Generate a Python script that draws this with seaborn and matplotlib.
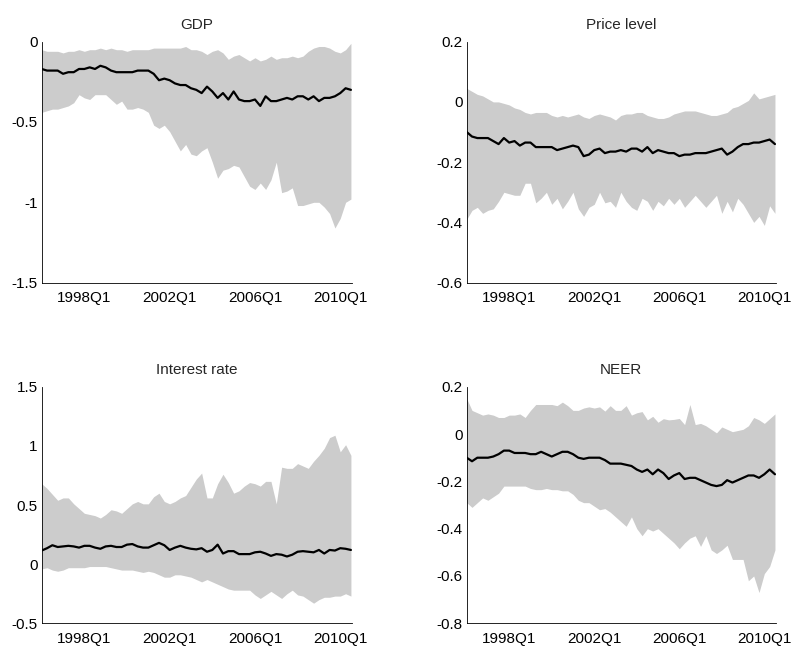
import numpy as np
import pandas as pd
import matplotlib
matplotlib.use("Agg")
import matplotlib.pyplot as plt
import seaborn as sns

# ---------------- data ----------------
quarters = [f"{y}Q{q}" for y in range(1996, 2011) for q in range(1, 5)][:59]
xtick_labels = ["1998Q1", "2002Q1", "2006Q1", "2010Q1"]
titles = ["GDP", "Price level", "Interest rate", "NEER"]

gdp_med = [-0.17, -0.18, -0.18, -0.18, -0.20, -0.19, -0.19, -0.17, -0.17, -0.16,
           -0.17, -0.15, -0.16, -0.18, -0.19, -0.19, -0.19, -0.19, -0.18, -0.18,
           -0.18, -0.20, -0.24, -0.23, -0.24, -0.26, -0.27, -0.27, -0.29, -0.30,
           -0.32, -0.28, -0.31, -0.35, -0.32, -0.36, -0.31, -0.36, -0.37, -0.37,
           -0.36, -0.40, -0.34, -0.37, -0.37, -0.36, -0.35, -0.36, -0.34, -0.34,
           -0.36, -0.34, -0.37, -0.35, -0.35, -0.34, -0.32, -0.29, -0.30]
gdp_up = [-0.05, -0.06, -0.06, -0.06, -0.07, -0.06, -0.06, -0.05, -0.06, -0.05,
          -0.05, -0.04, -0.05, -0.04, -0.05, -0.05, -0.06, -0.05, -0.05, -0.05,
          -0.05, -0.04, -0.04, -0.04, -0.04, -0.04, -0.04, -0.03, -0.05, -0.05,
          -0.06, -0.08, -0.06, -0.05, -0.07, -0.11, -0.09, -0.08, -0.10, -0.12,
          -0.10, -0.12, -0.11, -0.09, -0.11, -0.10, -0.10, -0.09, -0.10, -0.09,
          -0.06, -0.04, -0.03, -0.03, -0.04, -0.06, -0.07, -0.05, -0.01]
gdp_lo = [-0.44, -0.43, -0.42, -0.42, -0.41, -0.40, -0.38, -0.33, -0.35, -0.36,
          -0.33, -0.33, -0.33, -0.36, -0.39, -0.37, -0.42, -0.42, -0.41, -0.42,
          -0.44, -0.52, -0.54, -0.52, -0.56, -0.62, -0.68, -0.64, -0.70, -0.71,
          -0.68, -0.66, -0.75, -0.85, -0.80, -0.79, -0.77, -0.78, -0.84, -0.90,
          -0.92, -0.88, -0.92, -0.86, -0.75, -0.94, -0.93, -0.91, -1.02, -1.02,
          -1.01, -1.00, -1.00, -1.03, -1.07, -1.16, -1.10, -1.00, -0.98]

price_med = [-0.100, -0.115, -0.120, -0.120, -0.120, -0.130, -0.140, -0.120, -0.135, -0.130,
             -0.145, -0.135, -0.135, -0.150, -0.150, -0.150, -0.150, -0.160, -0.155, -0.150,
             -0.145, -0.150, -0.180, -0.175, -0.160, -0.155, -0.170, -0.165, -0.165, -0.160,
             -0.165, -0.155, -0.155, -0.165, -0.150, -0.170, -0.160, -0.165, -0.170, -0.170,
             -0.180, -0.175, -0.175, -0.170, -0.170, -0.170, -0.165, -0.160, -0.155, -0.175,
             -0.165, -0.150, -0.140, -0.140, -0.135, -0.135, -0.130, -0.125, -0.140]
price_up = [0.045, 0.035, 0.025, 0.020, 0.010, 0.000, 0.000, -0.005, -0.010, -0.020,
            -0.025, -0.035, -0.040, -0.035, -0.035, -0.035, -0.045, -0.050, -0.045, -0.050,
            -0.045, -0.040, -0.050, -0.055, -0.045, -0.040, -0.045, -0.050, -0.060, -0.045,
            -0.040, -0.040, -0.035, -0.035, -0.045, -0.050, -0.055, -0.055, -0.050, -0.040,
            -0.035, -0.030, -0.030, -0.030, -0.035, -0.040, -0.045, -0.045, -0.040, -0.035,
            -0.020, -0.015, -0.005, 0.005, 0.030, 0.010, 0.015, 0.020, 0.025]
price_lo = [-0.390, -0.360, -0.350, -0.370, -0.360, -0.355, -0.330, -0.300, -0.305, -0.310,
            -0.310, -0.270, -0.270, -0.335, -0.320, -0.300, -0.340, -0.320, -0.355, -0.330,
            -0.300, -0.355, -0.380, -0.350, -0.340, -0.300, -0.335, -0.330, -0.350, -0.300,
            -0.330, -0.350, -0.360, -0.320, -0.330, -0.360, -0.330, -0.345, -0.320, -0.340,
            -0.320, -0.350, -0.330, -0.310, -0.330, -0.350, -0.330, -0.310, -0.370, -0.330,
            -0.365, -0.320, -0.340, -0.370, -0.400, -0.380, -0.410, -0.345, -0.370]

rate_med = [0.115, 0.135, 0.160, 0.145, 0.150, 0.155, 0.150, 0.140, 0.155, 0.155,
            0.140, 0.130, 0.150, 0.155, 0.145, 0.145, 0.165, 0.170, 0.150, 0.140,
            0.140, 0.160, 0.180, 0.160, 0.120, 0.140, 0.155, 0.140, 0.130, 0.125,
            0.135, 0.105, 0.120, 0.165, 0.090, 0.110, 0.110, 0.085, 0.085, 0.085,
            0.100, 0.105, 0.090, 0.070, 0.085, 0.080, 0.065, 0.080, 0.105, 0.110,
            0.105, 0.100, 0.120, 0.090, 0.120, 0.115, 0.135, 0.130, 0.120]
rate_up = [0.68, 0.64, 0.59, 0.54, 0.56, 0.56, 0.51, 0.47, 0.43, 0.42,
           0.41, 0.39, 0.42, 0.46, 0.45, 0.43, 0.47, 0.51, 0.53, 0.51,
           0.51, 0.57, 0.60, 0.53, 0.51, 0.53, 0.56, 0.58, 0.65, 0.72,
           0.77, 0.56, 0.56, 0.68, 0.76, 0.69, 0.60, 0.62, 0.66, 0.69,
           0.68, 0.66, 0.70, 0.70, 0.51, 0.82, 0.81, 0.81, 0.85, 0.83,
           0.81, 0.87, 0.92, 0.98, 1.07, 1.09, 0.95, 1.01, 0.92]
rate_lo = [-0.04, -0.03, -0.05, -0.06, -0.05, -0.03, -0.03, -0.03, -0.03, -0.02,
           -0.02, -0.02, -0.02, -0.03, -0.04, -0.05, -0.05, -0.05, -0.06, -0.07,
           -0.06, -0.07, -0.09, -0.11, -0.11, -0.09, -0.09, -0.10, -0.11, -0.13,
           -0.15, -0.13, -0.15, -0.17, -0.19, -0.21, -0.22, -0.22, -0.22, -0.22,
           -0.26, -0.29, -0.26, -0.23, -0.26, -0.29, -0.25, -0.22, -0.26, -0.27,
           -0.30, -0.33, -0.30, -0.28, -0.28, -0.27, -0.27, -0.25, -0.27]

neer_med = [-0.100, -0.115, -0.100, -0.100, -0.100, -0.095, -0.085, -0.070, -0.070, -0.080,
            -0.080, -0.080, -0.085, -0.085, -0.075, -0.085, -0.095, -0.085, -0.075, -0.075,
            -0.085, -0.100, -0.105, -0.100, -0.100, -0.100, -0.110, -0.125, -0.125, -0.125,
            -0.130, -0.135, -0.150, -0.160, -0.150, -0.170, -0.150, -0.165, -0.190, -0.175,
            -0.165, -0.190, -0.185, -0.185, -0.195, -0.205, -0.215, -0.220, -0.215, -0.195,
            -0.205, -0.195, -0.185, -0.175, -0.175, -0.185, -0.170, -0.150, -0.170]
neer_up = [0.150, 0.100, 0.090, 0.080, 0.085, 0.080, 0.070, 0.070, 0.080, 0.080,
           0.085, 0.070, 0.100, 0.125, 0.125, 0.125, 0.125, 0.120, 0.135, 0.120,
           0.100, 0.100, 0.110, 0.115, 0.110, 0.115, 0.097, 0.120, 0.100, 0.100,
           0.120, 0.080, 0.090, 0.095, 0.060, 0.075, 0.050, 0.065, 0.060, 0.062,
           0.066, 0.040, 0.125, 0.040, 0.045, 0.035, 0.020, 0.005, 0.030, 0.020,
           0.010, 0.015, 0.020, 0.035, 0.070, 0.060, 0.045, 0.065, 0.085]
neer_lo = [-0.290, -0.310, -0.290, -0.270, -0.280, -0.265, -0.250, -0.220, -0.220, -0.220,
           -0.220, -0.220, -0.230, -0.235, -0.235, -0.230, -0.235, -0.235, -0.240, -0.240,
           -0.255, -0.280, -0.290, -0.290, -0.305, -0.320, -0.315, -0.330, -0.350, -0.370,
           -0.390, -0.350, -0.400, -0.430, -0.400, -0.410, -0.400, -0.420, -0.440, -0.460,
           -0.485, -0.460, -0.440, -0.430, -0.475, -0.430, -0.490, -0.505, -0.490, -0.470,
           -0.530, -0.530, -0.530, -0.620, -0.600, -0.670, -0.590, -0.560, -0.490]

yticks = [[0, -0.5, -1, -1.5], [0.2, 0, -0.2, -0.4, -0.6],
          [1.5, 1, 0.5, 0, -0.5], [0.2, 0, -0.2, -0.4, -0.6, -0.8]]
ytick_labels = [["0", "-0.5", "-1", "-1.5"], ["0.2", "0", "-0.2", "-0.4", "-0.6"],
                ["1.5", "1", "0.5", "0", "-0.5"], ["0.2", "0", "-0.2", "-0.4", "-0.6", "-0.8"]]
ylims = [(-1.5, 0), (-0.6, 0.2), (-0.5, 1.5), (-0.8, 0.2)]

series = [(gdp_med, gdp_lo, gdp_up), (price_med, price_lo, price_up),
          (rate_med, rate_lo, rate_up), (neer_med, neer_lo, neer_up)]

# ---------------- style ----------------
sns.set_style("white")
plt.rcParams["font.family"] = ["Liberation Sans", "DejaVu Sans"]
plt.rcParams["axes.unicode_minus"] = False

fig = plt.figure(figsize=(7.96, 6.49), dpi=100)
positions = [
    [0.0524, 0.5645, 0.3898, 0.3713],
    [0.5863, 0.5645, 0.3886, 0.3713],
    [0.0524, 0.0396, 0.3898, 0.3645],
    [0.5863, 0.0396, 0.3886, 0.3645],
]

x = np.arange(len(quarters))
for k in range(4):
    ax = fig.add_axes(positions[k])
    med, lo, up = series[k]
    df = pd.DataFrame({"x": x, "med": med, "lo": lo, "up": up})
    ax.fill_between(df["x"], df["lo"], df["up"], color="#cccccc", linewidth=0, zorder=1)
    sns.lineplot(data=df, x="x", y="med", ax=ax, color="black", linewidth=1.6, zorder=3)
    ax.set_xlim(0, 58.2)
    ax.set_ylim(*ylims[k])
    xt = [quarters.index(q) for q in xtick_labels]
    ax.set_xticks(xt)
    ax.set_xticklabels(xtick_labels)
    ax.set_yticks(yticks[k])
    ax.set_yticklabels(ytick_labels[k])
    ax.set_xlabel("")
    ax.set_ylabel("")
    ax.set_title(titles[k], fontsize=11, pad=9)
    for s in ["top", "right"]:
        ax.spines[s].set_visible(False)
    for s in ["left", "bottom"]:
        ax.spines[s].set_color("black")
        ax.spines[s].set_linewidth(0.6)
        ax.spines[s].set_zorder(4)
    ax.tick_params(axis="both", direction="in", length=3, width=0.6, colors="black",
                   labelsize=11)
    ax.tick_params(axis="x", pad=6)
    ax.tick_params(axis="y", pad=3)
    ax.set_facecolor("white")

fig.savefig("out.png", dpi=100)
